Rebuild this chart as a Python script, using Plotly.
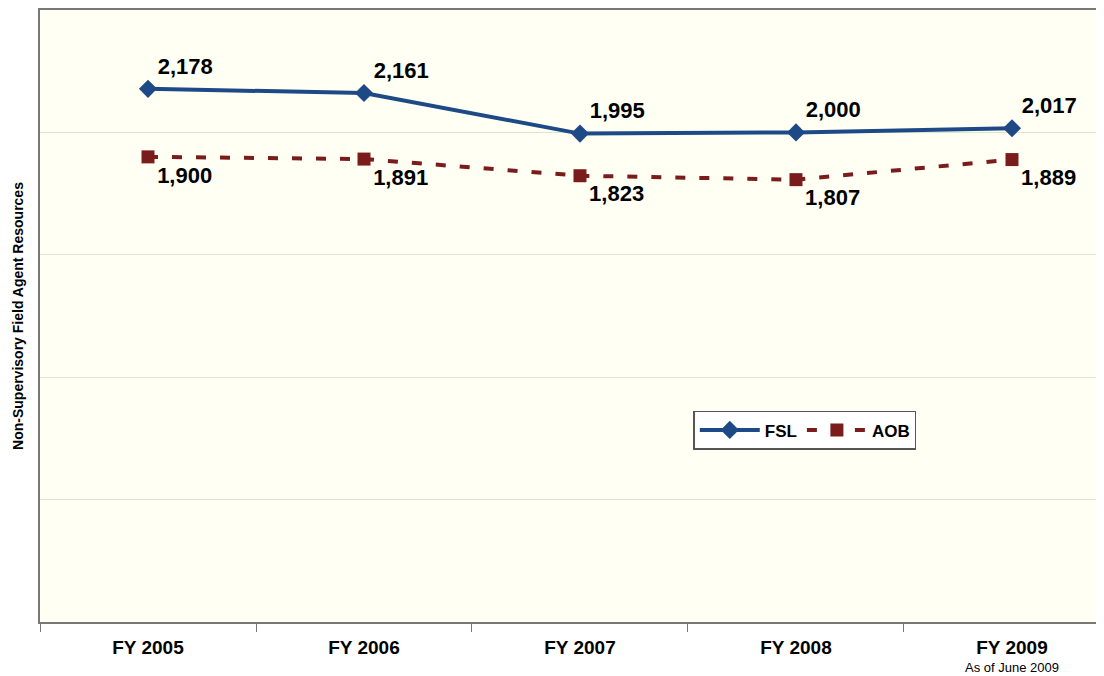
import plotly.graph_objects as go

YEARS = ['FY 2005', 'FY 2006', 'FY 2007', 'FY 2008', 'FY 2009']
YEAR_LABELS = ['<b>FY 2005</b>', '<b>FY 2006</b>', '<b>FY 2007</b>', '<b>FY 2008</b>', '<b>FY 2009</b>']
NOTE = 'As of June 2009'
FSL = [2178, 2161, 1995, 2000, 2017]
AOB = [1900, 1891, 1823, 1807, 1889]

FONT = 'Liberation Sans, Arial, sans-serif'
BLUE = '#1d4a86'
RED = '#7a1c1c'

fig = go.Figure()
fig.add_trace(go.Scatter(
    x=YEARS, y=FSL, name='FSL', mode='lines+markers+text',
    line=dict(color=BLUE, width=4),
    marker=dict(symbol='diamond', size=14, color=BLUE),
    text=[f'<b>{v:,}</b>' for v in FSL], textposition='top right',
    textfont=dict(family=FONT, size=22, color='black'),
))
fig.add_trace(go.Scatter(
    x=YEARS, y=AOB, name='AOB', mode='lines+markers+text',
    line=dict(color=RED, width=4, dash='10px,14px'),
    marker=dict(symbol='square', size=13, color=RED),
    text=[f'<b>{v:,}</b>' for v in AOB], textposition='bottom right',
    textfont=dict(family=FONT, size=22, color='black'),
))

# note under the last year label
fig.add_annotation(
    x=YEARS[-1], xref='x', y=-0.075, yref='paper', yanchor='middle',
    text=NOTE, showarrow=False,
    font=dict(family=FONT, size=13, color='black'),
)

# page body adds an 8px offset, so the figure is sized to fit the window
fig.update_layout(
    width=1096, height=668,
    margin=dict(l=32, r=0, t=2, b=54),
    paper_bgcolor='white',
    plot_bgcolor='#fffff4',
    font=dict(family=FONT, color='black'),
    showlegend=True,
    legend=dict(
        orientation='h', x=0.614, y=0.345, xanchor='left', yanchor='top',
        bgcolor='white', bordercolor='#555555', borderwidth=1.5,
        font=dict(family=FONT, size=17, color='black', weight='bold'),
        itemwidth=60, tracegroupgap=0,
    ),
)
fig.update_xaxes(
    type='category', range=[-0.5, 4.426], automargin=False,
    tickvals=YEARS, ticktext=YEAR_LABELS,
    tickson='boundaries', ticks='outside', ticklen=8, tickcolor='#777777',
    showline=True, linecolor='#777777', linewidth=2, mirror=True,
    showgrid=False, ticklabelstandoff=7,
    tickfont=dict(family=FONT, size=19, color='black'),
)
fig.update_yaxes(
    range=[0, 2500], dtick=500, showticklabels=False, automargin=False,
    showline=True, linecolor='#777777', linewidth=2,
    showgrid=True, gridcolor='#dfe6cf', gridwidth=1, zeroline=False,
    title=dict(text='<b>Non-Supervisory Field Agent Resources</b>', standoff=11,
               font=dict(family=FONT, size=14, color='black')),
)

fig.write_html('out.html')
